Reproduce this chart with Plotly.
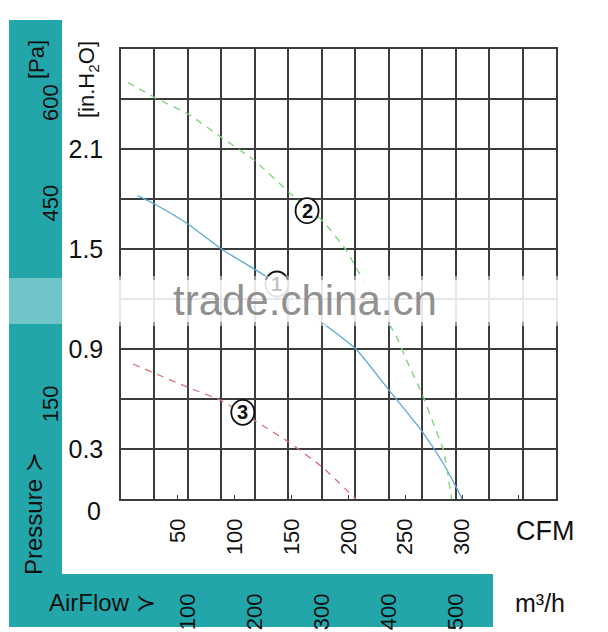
import plotly.graph_objects as go

# airflow in m3/h, static pressure in in.H2O
curve1_x = [25, 50, 100, 150, 215, 260, 307, 351, 401, 451, 482, 501, 510]
curve1_y = [1.82, 1.77, 1.65, 1.50, 1.34, 1.20, 1.04, 0.90, 0.65, 0.40, 0.21, 0.07, 0.0]

curve2_x = [10, 50, 100, 150, 200, 251, 301, 337, 351, 412, 427, 450, 467, 482, 494]
curve2_y = [2.50, 2.41, 2.31, 2.17, 2.03, 1.84, 1.67, 1.49, 1.39, 0.97, 0.83, 0.63, 0.45, 0.29, 0.0]

curve3_x = [18, 100, 150, 200, 251, 301, 351]
curve3_y = [0.81, 0.67, 0.59, 0.47, 0.34, 0.19, 0.0]

# curve number markers: label, airflow, pressure
marker_labels = ["2", "3", "1"]
marker_x = [278, 182, 233]
marker_y = [1.73, 0.52, 1.29]

m3h_ticks = [100, 200, 300, 400, 500]
cfm_ticks = [50, 100, 150, 200, 250, 300, 350]
cfm_labels = ["50", "100", "150", "200", "250", "300", ""]
inh2o_ticks = [0.3, 0.9, 1.5, 2.1]
pa_ticks = [150, 450, 600]

CFM_TO_M3H = 1.699
PA_PER_INH2O = 249.09
X_MAX = 650
Y_MAX = 2.7

TEAL = "#22a6aa"
GRID = "#3c3c3c"
FONT = "Liberation Sans, Arial, sans-serif"
INK = "#111111"


# plot area spans pixels x 121..556, y 49..499
def px(x):
    return (x - 121) / 435


def py(y):
    return (499 - y) / 450


fig = go.Figure()
fig.add_trace(go.Scatter(x=curve1_x, y=curve1_y, mode="lines",
                         line=dict(color="#5aa9d6", width=1.3, shape="spline", smoothing=0.5),
                         showlegend=False))
fig.add_trace(go.Scatter(x=curve2_x, y=curve2_y, mode="lines",
                         line=dict(color="#80d680", width=1.4, dash="7px,6px", shape="spline", smoothing=0.5),
                         showlegend=False))
fig.add_trace(go.Scatter(x=curve3_x, y=curve3_y, mode="lines",
                         line=dict(color="#d9707a", width=1.3, dash="7px,6px", shape="spline", smoothing=0.5),
                         showlegend=False))

# teal L-shaped band
fig.add_shape(type="rect", xref="paper", yref="paper", x0=px(9), x1=px(62), y0=py(627), y1=py(20),
              fillcolor=TEAL, line_width=0, layer="below")
fig.add_shape(type="rect", xref="paper", yref="paper", x0=px(9), x1=px(493), y0=py(627), y1=py(574),
              fillcolor=TEAL, line_width=0, layer="below")

# circled curve numbers
for lab, mx, my in zip(marker_labels, marker_x, marker_y):
    fig.add_shape(type="circle", xref="x", yref="y", xsizemode="pixel", ysizemode="pixel",
                  xanchor=mx, yanchor=my, x0=-11.5, x1=11.5, y0=-12.5, y1=12.5,
                  fillcolor="white", line=dict(color="#111", width=1.8), layer="above")

# watermark band
fig.add_shape(type="rect", xref="paper", yref="paper", x0=px(0), x1=px(64), y0=py(324), y1=py(278),
              fillcolor="white", opacity=0.35, line_width=0, layer="above")
fig.add_shape(type="rect", xref="paper", yref="paper", x0=px(64), x1=px(578), y0=py(326), y1=py(276),
              fillcolor="white", opacity=0.5, line_width=0, layer="above")
fig.add_shape(type="rect", xref="paper", yref="paper", x0=px(64), x1=px(572), y0=py(322), y1=py(280),
              fillcolor="white", opacity=0.75, line_width=0, layer="above")

for lab, mx, my in zip(marker_labels, marker_x, marker_y):
    ink = "rgba(17,17,17,0.25)" if lab == "1" else "#111"
    fig.add_annotation(text=lab, x=mx, y=my, showarrow=False,
                       font=dict(family=FONT, size=20, color=ink, weight="bold"))

# Pa scale labels on the teal band, placed through the Pa axis
for v in pa_ticks:
    fig.add_annotation(text=str(v), xref="paper", yref="y2", x=px(36), y=v, yshift=-5,
                       textangle=-90, showarrow=False,
                       font=dict(family=FONT, size=22, color=INK))


def note(text, x, y, size, angle=0, anchor="center", color=INK, family=FONT):
    fig.add_annotation(text=text, xref="paper", yref="paper", x=px(x), y=py(y),
                       xanchor=anchor, yanchor="middle", textangle=angle, showarrow=False,
                       font=dict(family=family, size=size, color=color))


note("[Pa]", 36, 60, 22, -90)
note("Pressure ≻", 33, 514, 24, -90)
note("AirFlow ≻", 47, 602, 24, 0, "left")
note("[in.H<sub>2</sub>O]", 88, 80, 22, -90)
note("CFM", 545, 531, 27)
note("m³/h", 540, 603, 25)
note("trade.china.cn", 305, 300, 42, 0, "center", "rgba(130,130,130,0.9)")

fig.add_annotation(text="0", xref="paper", yref="y", x=px(94), y=0, yshift=-12, showarrow=False,
                   xanchor="center", font=dict(family=FONT, size=25, color=INK))

fig.update_layout(
    width=608, height=632,
    margin=dict(l=121, r=52, t=49, b=133, autoexpand=False),
    paper_bgcolor="white", plot_bgcolor="white",
    xaxis=dict(range=[0, X_MAX], tickvals=m3h_ticks, ticktext=[str(v) for v in m3h_ticks],
               tickangle=-90, ticklabelstandoff=84, ticks="", automargin=False,
               tickfont=dict(family=FONT, size=22, color=INK),
               showgrid=True, gridcolor=GRID, gridwidth=1.5,
               minor=dict(dtick=50, tick0=0, showgrid=True, gridcolor=GRID, gridwidth=1.5),
               showline=True, linecolor=GRID, linewidth=1.5, mirror=True, zeroline=False),
    xaxis2=dict(range=[0, X_MAX / CFM_TO_M3H], overlaying="x", side="bottom", anchor="y",
                tickvals=cfm_ticks, ticktext=cfm_labels, tickangle=-90, automargin=False,
                ticks="inside", ticklen=4, tickcolor=GRID, ticklabelstandoff=14,
                tickfont=dict(family=FONT, size=22, color=INK), showgrid=False, zeroline=False),
    yaxis=dict(range=[0, Y_MAX], tickvals=inh2o_ticks, ticktext=[str(v) for v in inh2o_ticks],
               ticks="", ticklabelstandoff=11, automargin=False,
               tickfont=dict(family=FONT, size=25, color=INK),
               showgrid=True, gridcolor=GRID, gridwidth=1.5,
               minor=dict(dtick=0.3, tick0=0, showgrid=True, gridcolor=GRID, gridwidth=1.5),
               showline=True, linecolor=GRID, linewidth=1.5, mirror=True, zeroline=False),
    yaxis2=dict(range=[0, Y_MAX * PA_PER_INH2O], overlaying="y", side="left", anchor="free", position=0,
                showticklabels=False, ticks="", automargin=False, showgrid=False, zeroline=False),
)

# attach hidden traces so the secondary axes are drawn
fig.add_trace(go.Scatter(x=[None], y=[None], xaxis="x2", yaxis="y", showlegend=False))
fig.add_trace(go.Scatter(x=[None], y=[None], xaxis="x", yaxis="y2", showlegend=False))

fig.write_html("out.html", config={"displayModeBar": False},
               post_script="document.body.style.margin='0';")
